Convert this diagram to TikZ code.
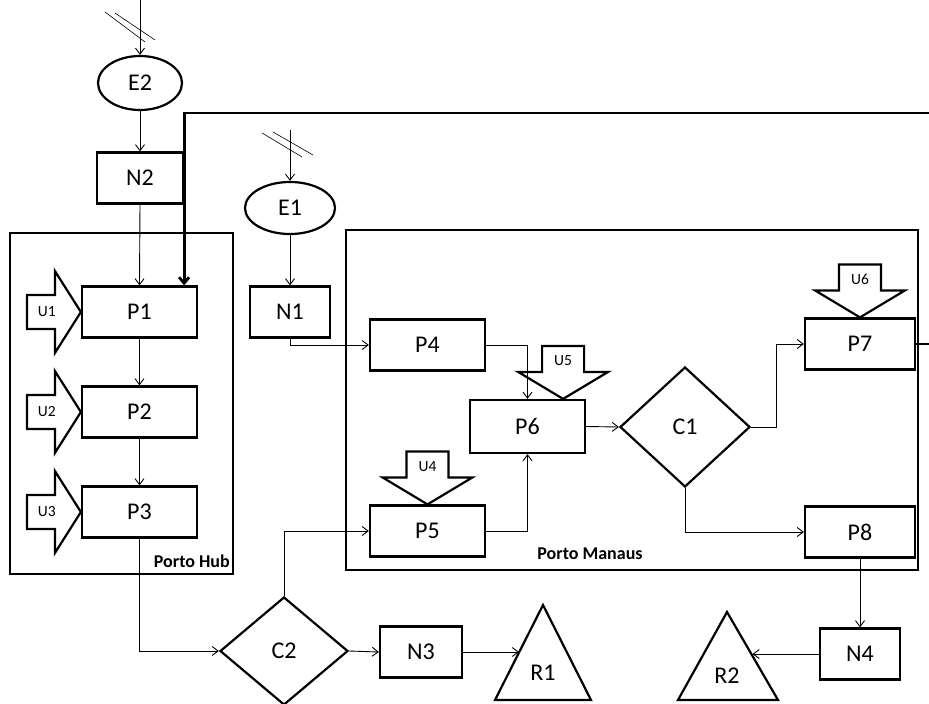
\documentclass[tikz,border=0pt]{standalone}
\usepackage{fontspec}
\setmainfont{Carlito}
\usetikzlibrary{shapes.geometric,arrows.meta}

\tikzset{
    box/.style={draw=black, line width=2.2pt, minimum width=115pt, minimum height=51pt, inner sep=0pt, font=\fontsize{24}{27}\selectfont},
    sbox/.style={box, minimum width=82pt},
    ent/.style={draw=black, ellipse, line width=2.2pt, inner sep=0pt, font=\fontsize{24}{27}\selectfont},
    dec/.style={draw=black, diamond, line width=2.2pt, inner sep=0pt, font=\fontsize{24}{27}\selectfont},
    res/.style={inner sep=0pt, font=\fontsize{24}{27}\selectfont},
    flow/.style={-{Straight Barb[length=6pt,width=9pt]}, line width=0.9pt},
    back/.style={-{Straight Barb[length=6pt,width=10pt]}, line width=2.8pt},
    frame/.style={draw=black, line width=2.2pt},
    util/.style={draw=black, line width=2.2pt, line join=miter},
    ulabel/.style={inner sep=0pt, font=\fontsize{15.5}{17}\selectfont},
    plabel/.style={inner sep=0pt, font=\bfseries\fontsize{18}{20}\selectfont}
}

\begin{document}
\begin{tikzpicture}[x=1pt, y=-1pt]
        \useasboundingbox (0,0) rectangle (929,704);
        \clip (0,0) rectangle (929,704);

        \draw [frame] (10,233) rectangle (233,574);
        \node [plabel, anchor=base east] (hub) at (230,567) {Porto Hub};
        \draw [frame] (346,230) rectangle (918,570);
        \node [plabel, anchor=base] (manaus) at (590,559) {Porto Manaus};

        \node [ent, minimum width=84pt, minimum height=54pt] (E2) at (140,83) {E2};
        \node [box, minimum width=86pt] (N2) at (140,178) {N2};
        \node [box] (P1) at (139.5,312) {P1};
        \node [box] (P2) at (139.5,412) {P2};
        \node [box] (P3) at (139.5,512) {P3};
        \node [ent, minimum width=90pt, minimum height=52pt] (E1) at (290,208) {E1};
        \node [sbox, minimum width=80pt] (N1) at (290,312) {N1};
        \node [box] (P4) at (427.5,345) {P4};
        \node [box] (P5) at (427.5,531) {P5};
        \node [box, minimum height=53pt] (P6) at (527.5,426.5) {P6};
        \node [dec, minimum width=130pt, minimum height=120pt] (C1) at (685,427) {C1};
        \node [box, minimum width=110pt] (P7) at (860,344) {P7};
        \node [box, minimum width=110pt] (P8) at (860,532) {P8};
        \node [dec, minimum width=128pt, minimum height=108pt] (C2) at (284,651) {C2};
        \node [sbox] (N3) at (421,652) {N3};
        \node [sbox, minimum width=80pt] (N4) at (860,654) {N4};

        \draw [util] (495,700) -- (543,605) -- (591,700) -- cycle;
        \node [res] (R1) at (543,673) {R1};
        \coordinate (r1) at (519,652.5);
        \draw [util] (678,700) -- (727,612) -- (778,700) -- cycle;
        \node [res] (R2) at (727,676) {R2};
        \coordinate (r2) at (752.5,656);

        \foreach \i in {1,2,3} {
            \draw [util] (P\i.west) -- ++(-26,-41) -- ++(0,24) -- ++(-28,0) -- ++(0,34) -- ++(28,0) -- ++(0,24) -- cycle;
            \node [ulabel] (U\i) at ([xshift=-34pt]P\i.west) {U\i};
        }
        \coordinate (u5tip) at ([xshift=-23pt]P6.north east);
        \foreach \t/\n in {P5.north/4, u5tip/5, P7.north/6} {
            \draw [util] (\t) -- ++(-45,-27) -- ++(24,0) -- ++(0,-26) -- ++(42,0) -- ++(0,26) -- ++(24,0) -- cycle;
            \node [ulabel] (U\n) at ([yshift=38pt]\t) {U\n};
        }

        \coordinate (e2in) at (140,0);
        \draw [flow] (e2in) -- (E2.north);
        \draw [line width=0.6pt] (105,12) -- (145,42) (115,13) -- (155,40);
        \coordinate (e1in) at (290,130);
        \draw [flow] (e1in) -- (E1.north);
        \draw [line width=0.6pt] (262,133) -- (302,157) (273,132) -- (313,155);

        \draw [flow] (E2.south) -- (N2.north);
        \draw [flow] (N2.south) -- (P1.north);
        \draw [flow] (P1.south) -- (P2.north);
        \draw [flow] (P2.south) -- (P3.north);
        \draw [flow] (P3.south) |- (C2.west);
        \draw [flow] (C2.north) |- (P5.west);
        \draw [flow] (C2.east) -- (N3.west);
        \draw [flow] (N3.east) -- (N3.east -| r1);
        \draw [flow] (E1.south) -- (N1.north);
        \draw [flow] (N1.south) |- (P4.west);
        \draw [flow] (P4.east) -| (P6.north);
        \draw [flow] (P5.east) -| (P6.south);
        \draw [flow] (P6.east) -- (C1.west);
        \draw [flow] (C1.east) -- ++(25,0) |- (P7.west);
        \draw [flow] (C1.south) |- (P8.west);
        \draw [flow] (P8.south) -- (N4.north);
        \draw [flow] (N4.west) -- (N4.west -| r2);

        \coordinate (loop) at (945,113);
        \coordinate (p1in) at ([xshift=-14pt]P1.north east);
        \draw [back] (P7.east) -- (P7.east -| loop) -- (loop) -| (p1in);
\end{tikzpicture}
\end{document}
